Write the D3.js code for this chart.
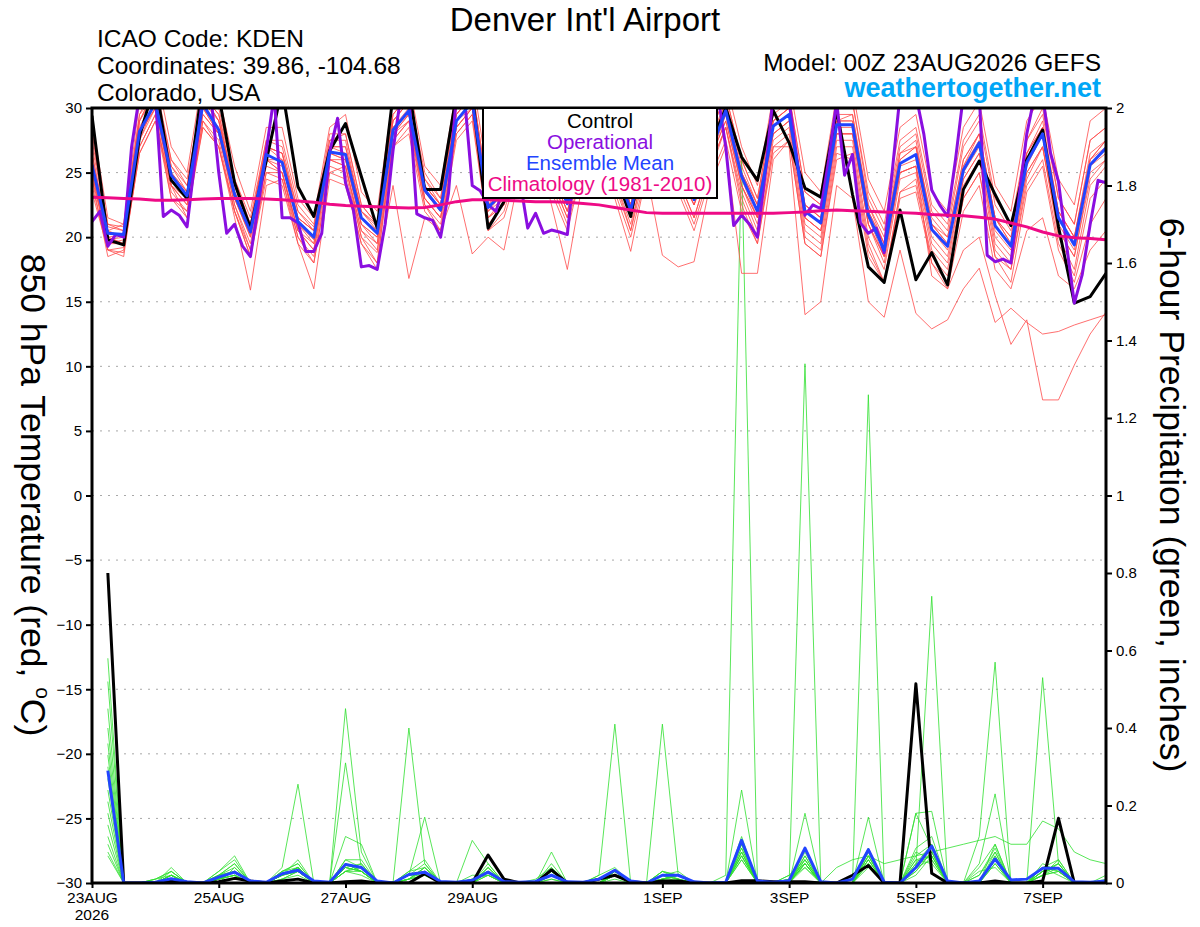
<!DOCTYPE html>
<html><head><meta charset="utf-8">
<script src="https://cdn.jsdelivr.net/npm/d3@7"></script>
<style>
body{margin:0;background:#fff;}
text{font-family:"Liberation Sans",Arial,Helvetica,sans-serif;}
</style></head><body>
<svg id="c" width="1200" height="927"></svg>
<script>
// ---------- DATA ----------
const ensStepHours = 6;      // GEFS members, control, mean, climatology
const opStepHours = 3;       // operational run
const dateTickHours = [0,48,96,144,216,264,312,360];
const dateTickLabels = ["23AUG","25AUG","27AUG","29AUG","1SEP","3SEP","5SEP","7SEP"];
const yearLabel = "2026";
const tempTicks = [30,25,20,15,10,5,0,-5,-10,-15,-20,-25,-30];
const precipTicks = [2,1.8,1.6,1.4,1.2,1,0.8,0.6,0.4,0.2,0];

const controlTemp = [29.4,19.8,19.4,27.8,32,24.4,23.0,32,31,24.2,20.7,25.9,31.5,23.9,21.6,26.7,28.8,24.7,20.7,31,31.5,23.7,23.7,31,31,20.7,22.75,28,31,26,24,29,31,25,21.6,28,31,30,26,27,30.0,26.2,24.4,29.8,27.3,23.8,23.1,29.8,23.3,17.7,16.5,22.1,16.7,18.8,16.3,23.7,25.9,23.3,20.9,26.0,28.3,20.8,14.9,15.4,17.2];

const meanTemp = [25.6,20.3,20.2,28.2,30.4,24.8,23.2,30.3,28.3,23.3,20.4,26.4,25.8,21.2,20.0,26.6,26.4,21.5,20.3,28.3,29.8,23.65,22.1,29.0,30.5,22.3,23.5,27.5,29.5,25.5,22.6,27.0,29.0,25.5,22.1,27.0,29.5,25.5,22.9,26.5,29.8,24.7,22.0,28.6,29.5,22.0,21.1,28.7,28.7,21.7,19.0,25.7,26.4,20.6,19.3,25.2,27.3,20.9,19.3,25.8,28.0,21.5,19.4,25.6,26.9];

const operationalTemp = [21.2,22.0,19.3,20.2,20.0,27.0,31,31,31,21.6,22.1,21.7,20.8,26.0,31,31,25.0,20.3,21.0,19.3,18.5,22.5,26.7,31,21.5,21.5,21.1,18.9,18.9,20.3,26.6,29.2,24.2,22.1,17.7,17.8,17.5,21.0,26.7,31,31,21.8,21.5,21.3,20.0,23.4,31,31,24.0,23.6,22.5,22.0,24.0,28.0,24.5,20.7,21.85,20.3,20.55,20.4,20.2,26.0,30.0,31,31,27.0,24.0,23.5,23.2,26.0,30.0,31,31,27.0,24.0,23.5,23.3,25.0,29.0,31,27.0,20.9,21.7,21.0,20.0,25.0,31,31,30.5,26.0,21.7,22.5,22.2,26.0,30.5,24.8,26.4,21.1,20.3,20.7,18.8,25.0,31,31,31,28.0,23.65,22.5,21.6,26.0,31,31,31,18.6,18.1,18.3,18.0,23.0,28.0,31,31,26.5,24.3,19.5,14.9,17.1,21.0,24.4,24.2];

const climatologyTemp = [23.1,23.05,23.0,22.95,22.85,22.85,22.9,22.95,23.0,23.0,23.0,22.95,22.9,22.8,22.7,22.55,22.45,22.4,22.35,22.3,22.25,22.3,22.5,22.75,22.9,22.9,22.85,22.8,22.75,22.75,22.7,22.6,22.5,22.3,22.1,21.9,21.85,21.85,21.85,21.85,21.85,21.85,21.85,21.85,21.9,21.95,22.05,22.1,22.05,22.0,21.95,21.9,21.85,21.75,21.7,21.65,21.55,21.4,21.1,20.8,20.4,20.1,19.95,19.9,19.8];

const memberTemps = [
[28.0,20.8,20.5,29.5,32.0,26.0,24.0,31.5,30.0,24.5,21.0,27.5,27.0,22.0,20.8,27.5,28.0,22.5,21.0,29.5,31.0,24.5,23.0,30.5,31.5,23.5,24.5,29.0,31.0,26.5,23.5,28.5,30.5,26.5,23.0,28.5,31.0,26.5,24.0,28.0,31.0,26.0,23.0,30.0,31.0,23.5,22.5,30.0,30.5,23.0,20.5,27.0,28.0,22.0,20.5,27.0,29.0,22.5,20.5,27.5,30.0,23.0,21.0,27.5,28.5],
[24.0,19.0,18.5,27.0,29.5,23.5,22.0,29.0,27.0,22.0,19.0,25.0,24.5,20.0,18.5,25.5,25.0,20.0,18.8,27.0,28.5,22.5,21.0,28.0,29.5,21.0,22.5,26.5,28.5,24.5,21.5,26.0,28.0,24.5,21.0,26.0,28.5,24.5,21.5,25.5,28.5,23.5,20.5,27.5,28.5,20.5,19.5,27.5,27.5,20.0,17.5,24.5,25.0,19.0,17.5,24.0,26.0,19.0,17.5,24.5,27.0,20.0,17.5,24.0,25.5],
[25.0,19.5,19.8,28.0,30.0,24.5,23.0,30.0,28.5,23.0,20.0,26.0,25.5,21.0,19.5,26.5,26.0,21.0,20.0,28.0,29.5,23.5,22.0,29.0,30.0,22.0,23.0,27.0,29.0,25.0,22.0,26.5,28.5,25.0,21.5,26.5,29.0,25.0,22.5,26.0,29.0,24.0,21.5,28.0,29.0,21.5,20.5,28.0,28.0,21.0,18.5,25.0,25.5,17.0,16.0,19.0,20.0,15.5,11.7,13.6,7.4,7.4,10.1,12.5,14.2],
[26.5,20.0,19.5,27.5,30.5,24.0,22.5,29.5,28.0,23.0,20.2,26.0,25.0,20.5,19.5,26.0,26.0,21.0,19.5,28.0,29.0,23.0,21.5,28.5,30.0,21.5,22.5,27.0,29.0,24.5,21.5,26.5,28.5,24.5,20.5,26.5,29.0,24.5,21.5,25.5,28.5,23.0,20.0,27.0,27.0,14.0,15.0,24.0,23.0,15.0,13.8,19.0,14.1,12.9,13.6,16.0,17.6,13.4,14.5,13.4,12.5,12.7,13.2,13.6,14.0],
[24.5,18.5,19.0,26.5,29.0,23.0,22.0,28.5,27.0,21.5,15.9,24.0,24.5,19.5,16.0,24.5,24.0,19.5,17.5,24.0,16.8,21.5,20.5,24.0,18.7,20.0,19.0,25.0,27.5,22.5,17.5,24.5,27.0,23.0,18.9,25.0,18.6,17.7,18.1,24.0,27.0,17.2,17.2,26.0,27.5,19.5,18.5,26.0,26.5,19.0,16.5,23.5,24.5,18.0,16.5,23.0,25.0,18.5,16.5,23.5,25.5,19.0,16.5,21.0,23.0],
[27.0,21.0,20.8,29.0,31.5,25.5,24.0,31.0,29.0,24.0,21.0,27.0,26.5,22.0,20.5,27.0,27.0,22.0,20.8,29.0,30.5,24.0,22.5,29.5,31.0,22.5,24.0,28.0,30.0,26.0,23.0,27.5,29.5,26.0,22.5,27.5,30.0,26.0,23.5,27.0,30.5,25.0,22.5,29.0,30.0,22.5,21.5,29.0,29.5,22.0,19.5,26.0,27.0,21.0,19.5,25.5,28.0,21.5,19.5,26.5,28.5,22.0,20.0,26.0,27.5],
[25.0,20.0,19.5,27.5,30.0,24.0,22.5,29.5,28.0,22.5,19.5,26.0,25.0,20.5,19.0,26.0,25.5,20.5,19.5,28.0,29.5,23.0,21.5,28.5,30.0,21.5,23.0,27.0,29.0,25.0,22.0,26.5,28.5,25.0,21.5,26.5,29.0,25.0,22.5,26.0,29.5,24.0,21.5,28.0,29.0,21.5,20.5,28.0,28.0,21.0,18.5,25.0,25.5,20.0,18.5,24.5,26.5,20.0,18.5,25.0,27.0,20.5,18.5,25.0,26.0],
[29.0,21.5,21.0,30.5,33.0,27.0,25.0,32.5,31.0,25.5,22.0,28.5,28.5,23.0,21.5,28.5,29.5,23.5,22.0,31.0,32.0,25.5,24.0,31.5,32.5,24.5,25.5,30.0,32.0,27.5,24.5,29.5,31.5,27.5,24.0,29.5,32.0,27.5,25.0,29.0,32.0,27.0,24.0,31.0,32.0,25.0,23.5,31.0,31.5,24.5,22.0,28.5,29.5,23.5,22.0,28.5,30.5,24.0,22.0,29.0,31.0,24.5,22.5,29.0,30.0],
[23.5,19.0,18.8,26.5,29.0,24.0,21.5,29.0,27.5,22.0,18.5,25.0,25.0,20.0,18.0,25.0,25.5,20.0,18.0,27.5,29.0,22.5,20.5,28.0,29.5,20.5,22.0,26.0,28.0,24.0,21.0,25.5,28.0,24.0,20.5,25.5,28.5,24.0,21.0,25.0,28.5,22.5,19.5,27.0,28.0,20.0,19.0,27.0,27.0,19.5,16.5,23.5,24.0,18.5,17.0,23.0,25.0,18.5,17.5,24.0,26.0,19.5,17.0,23.0,24.5],
[26.5,20.5,21.0,29.5,31.0,25.5,23.5,31.0,29.5,23.5,21.0,27.0,26.5,21.5,20.5,27.5,27.5,22.0,21.0,29.0,30.5,24.5,22.5,30.0,31.0,23.0,24.0,28.5,30.5,26.0,23.0,28.0,30.0,26.0,22.5,28.0,30.5,26.0,23.5,27.5,30.5,25.5,22.5,29.5,30.5,22.5,21.5,29.5,29.5,22.5,19.5,26.5,27.5,21.0,20.0,26.0,28.0,21.5,20.0,26.5,29.0,22.0,20.0,26.5,27.5],
[24.5,19.8,20.0,28.0,30.5,24.5,23.0,30.0,28.0,23.0,20.0,26.0,26.0,21.0,19.8,26.5,26.0,21.0,20.0,28.5,29.5,23.5,22.0,29.0,30.5,22.0,23.5,27.5,29.5,25.5,22.5,27.0,29.0,25.5,22.0,27.0,29.5,25.5,23.0,26.5,29.5,24.5,21.5,28.5,29.5,21.5,20.5,28.5,28.5,21.5,18.5,25.5,26.0,20.5,19.0,25.0,27.0,20.5,19.0,25.5,28.0,21.0,19.0,25.5,26.5],
[27.5,21.0,20.5,28.5,31.0,25.0,23.5,30.5,29.0,24.0,20.5,27.0,26.5,21.5,20.5,27.0,27.0,22.0,20.5,29.0,30.5,24.0,22.5,29.5,31.0,23.0,24.0,28.0,30.0,26.0,23.0,27.5,29.5,26.0,22.5,27.5,30.0,26.0,23.0,27.0,30.0,25.0,22.5,29.0,30.0,22.5,21.5,29.0,29.0,22.5,20.0,26.5,27.0,21.5,20.0,26.0,28.0,21.5,20.0,26.5,28.5,22.0,20.0,26.0,27.5],
[25.5,19.5,19.5,28.0,30.0,24.0,23.0,30.0,28.0,22.5,19.0,25.5,25.0,20.5,19.0,26.0,25.5,20.5,19.0,27.5,29.0,23.0,21.5,28.5,30.0,21.5,22.5,26.5,29.0,25.0,22.0,26.5,28.5,25.0,21.5,26.5,29.0,25.0,22.5,26.0,29.0,24.0,21.0,28.0,29.0,21.0,20.0,28.0,28.0,21.0,18.0,25.0,25.5,19.5,18.0,24.5,26.5,19.5,18.0,25.0,27.0,20.5,18.5,24.5,26.0],
[26.0,20.5,20.0,29.0,31.0,25.0,23.5,31.0,29.0,23.5,21.0,27.0,26.0,21.5,20.5,27.0,26.5,21.5,20.5,28.5,30.0,24.0,22.5,29.5,31.0,22.5,23.5,28.0,30.0,26.0,23.0,27.5,29.5,26.0,22.5,27.5,30.0,26.0,23.0,27.0,30.0,25.0,22.0,29.0,30.0,22.0,21.0,29.0,29.0,22.0,19.5,26.0,27.0,21.0,19.5,25.5,27.5,21.5,19.5,26.0,28.5,21.5,19.5,26.0,27.0],
[25.0,19.0,19.2,27.0,29.5,23.0,21.5,28.5,27.0,22.0,18.5,24.5,24.0,19.5,18.0,25.0,24.5,19.5,18.0,27.0,28.0,22.0,20.5,27.5,29.0,20.5,21.5,25.5,27.5,23.5,20.5,25.5,27.5,23.5,20.0,25.0,27.5,23.5,20.5,24.5,27.5,22.0,19.5,26.5,27.5,19.5,18.5,26.5,26.0,18.5,16.5,23.0,23.5,18.0,16.0,22.0,24.0,17.5,16.0,20.5,21.5,17.0,16.0,19.0,20.5],
[28.5,20.0,20.2,29.0,31.5,26.0,24.5,31.0,29.5,24.5,21.5,27.5,27.5,22.5,21.0,28.0,28.0,22.5,21.0,29.5,31.0,25.0,23.0,30.0,31.5,23.5,24.5,29.0,31.0,27.0,23.5,28.5,30.5,27.0,23.5,28.5,31.0,27.0,24.0,28.0,31.0,26.0,23.0,30.0,31.0,23.5,22.5,30.0,30.5,23.5,21.0,27.5,28.5,22.5,21.0,27.5,29.5,23.0,21.0,27.5,29.5,23.0,21.0,27.5,28.5]
];

// precipitation: 6-hour totals valid at hours 6..384
const controlPrecip = [0.80,0,0,0,0.007,0,0,0.003,0.012,0.005,0,0.005,0.01,0,0,0.003,0.005,0,0,0,0.024,0,0,0,0.072,0.01,0,0,0.034,0,0,0.01,0.02,0.003,0,0.005,0.005,0,0,0,0.006,0.006,0.003,0.003,0.003,0,0,0.02,0.045,0,0,0.514,0.025,0,0,0,0.005,0,0,0.005,0.167,0,0,0];
const meanPrecip = [0.29,0,0,0.002,0.011,0.003,0,0.015,0.028,0.005,0.002,0.024,0.033,0.005,0.002,0.048,0.04,0.005,0,0.022,0.028,0.004,0.002,0.007,0.028,0.004,0.002,0.004,0.02,0.003,0.002,0.01,0.033,0.005,0,0.02,0.02,0.003,0,0.002,0.11,0.005,0.002,0.006,0.09,0.003,0,0.01,0.086,0.002,0,0.04,0.095,0.005,0,0.005,0.062,0.008,0.01,0.038,0.038,0.003,0.002,0.005];
const memberPrecips = [
[.58,0,0,0,.02,0,0,.01, .03,0,0,.01,.02,0,0,.05, .03,0,0,.02,.03,0,0,0, .02,0,0,0,.01,0,0,.01, .03,0,0,.02,.01,0,0,.02, 1.88,0,0,0,.05,0,0,0, .06,0,0,.03,.08,0,0,0, .05,0,0,.02,.03,0,0,0],
[.52,0,0,.01,.03,0,0,.02, .05,0,0,.02,.04,0,0,.03, .04,0,0,.01,.02,0,0,.01, .03,0,0,0,.02,0,0,0, .02,0,0,.01,.02,0,0,0, .08,0,0,0,1.34,0,0,.01, .05,0,0,.05,.1,0,0,.02, .08,0,0,.03,.04,0,0,0],
[.45,0,0,0,.01,0,0,.01, .02,0,0,.03,.05,0,0,.12, .1,0,0,.01,.02,0,0,0, .04,0,0,0,.03,0,0,0, .01,0,0,.02,0,0,0,0, .1,0,0,0,.06,0,0,0, 1.26,0,0,.02,.07,0,0,0, .06,0,0,.04,.02,0,0,.01],
[.40,0,0,0,.04,0,0,.03, .07,0,0,.01,.03,0,0,.04, .05,0,0,.02,.05,0,0,0, .05,0,0,0,.02,0,0,0, .02,0,0,.03,.02,0,0,0, .06,0,0,.01,.09,0,0,0, .05,0,0,.04,.74,0,0,.03, .04,0,0,.05,.03,0,0,0],
[.36,0,0,.01,.03,0,0,0, .04,0,0,.02,.06,0,0,.06, .04,0,0,.01,.04,0,0,.02, .02,0,0,.01,.04,0,0,0, .03,0,0,.01,.02,0,0,0, .12,0,0,0,.08,0,0,0, .08,0,0,.06,.05,0,0,.12, .57,0,0,.02,.06,0,0,0],
[.33,0,0,0,.02,0,0,.02, .03,0,0,.02,.04,0,0,.06, .06,0,0,.03,.06,0,0,.01, .03,0,0,0,.05,0,0,.02, .04,0,0,.02,.01,0,0,0, .07,0,0,0,.05,0,0,0, .07,0,0,.08,.06,0,0,.02, .09,0,0,.53,.05,0,0,0],
[.30,0,0,0,.01,0,0,.01, .02,0,0,.02,.04,0,0,.03, .02,0,0,.03,.04,0,0,0, .03,0,0,0,.02,0,0,.02, .41,0,0,.03,.01,0,0,0, .09,0,0,.01,.04,0,0,0, .07,0,0,.03,.08,0,0,0, .05,0,0,.03,.04,0,0,.02],
[.27,0,0,.01,.02,0,0,.01, .03,0,0,.03,.05,0,0,.04, .03,0,0,.02,.03,0,0,.01, .02,0,0,0,.03,0,0,0, .02,0,0,.41,.02,0,0,0, .11,0,0,0,.07,0,0,0, .04,0,0,.06,.07,0,0,0, .1,0,0,.02,.03,0,0,0],
[.24,0,0,0,.01,0,0,.02, .04,0,0,.01,.03,0,0,.45, .08,0,0,.01,.04,0,0,0, .03,0,0,0,.02,0,0,.01, .03,0,0,.01,.01,0,0,0, .08,0,0,0,.05,0,0,.01, .09,0,0,.04,.06,0,0,0, .07,0,0,.02,.05,0,0,0],
[.21,0,0,0,.02,0,0,.02, .05,0,0,.02,.04,0,0,.05, .04,0,0,.40,.05,0,0,0, .04,0,0,0,.01,0,0,0, .02,0,0,.02,.03,0,0,0, .06,0,0,.02,.06,0,0,0, .06,0,0,.18,.09,0,0,0, .06,0,0,.04,.03,0,0,0],
[.18,0,0,0,.03,0,0,.01, .03,0,0,.04,.255,0,0,.03, .05,0,0,.02,.02,0,0,0, .03,0,0,0,.08,0,0,0, .02,0,0,.01,.02,0,0,0, .09,0,0,0,.06,0,0,0, .05,0,0,.05,.07,0,0,0, .08,0,0,.03,.05,0,0,0],
[.15,0,0,0,.01,0,0,.03, .06,0,0,.02,.03,0,0,.31, .04,0,0,.01,.03,0,0,.11, .05,0,0,0,.04,0,0,0, .03,0,0,.02,.01,0,0,0, .1,0,0,0,.07,0,0,0, .08,0,0,.07,.1,0,0,.04, .1,0,0,.04,.06,0,0,0],
[.12,0,0,0,.02,0,0,.01, .02,0,0,.03,.04,0,0,.04, .03,0,0,.02,.17,0,0,0, .03,0,0,0,.02,0,0,0, .03,0,0,.01,.02,0,0,0, .08,0,0,.01,.05,0,0,0, .06,0,0,.09,.12,0,0,0, .07,0,0,.03,.04,0,0,0],
[.10,0,0,0,.02,0,0,.01, .03,0,0,.02,.03,0,0,.05, .03,0,0,.02,.03,0,0,0, .02,0,0,0,.03,0,0,0, .02,0,0,.03,.02,0,0,0, .24,0,0,0,.04,0,0,0, .07,0,0,.04,.08,0,0,.05, .23,0,0,.03,.05,0,0,0],
[.08,0,0,0,.02,0,0,.01, .02,0,0,.02,.03,0,0,.03, .03,0,0,.01,.04,0,0,0, .04,0,0,0,.02,0,0,0, .03,0,0,.01,.02,0,0,0, .07,0,0,0,.18,0,0,0, .17,0,0,.18,.185,0,0,0, .06,0,0,.02,.04,0,0,0],
[.07,0,0,0,.01,0,0,.02, .03,0,0,.02,.04,0,0,.04, .03,0,0,.02,.03,0,0,0, .03,0,0,0,.02,0,0,0, .02,0,0,.02,.02,0,0,0, .07,0,0,.02,.05,0,.04,.06, .07,.05,.06,.07,.08,.09,.1,.11, .12,.1,.1,.16,.14,.08,.06,.05]
];

const titleText = "Denver Int'l Airport";
const infoLines = ["ICAO Code: KDEN","Coordinates: 39.86, -104.68","Colorado, USA"];
const modelText = "Model: 00Z 23AUG2026 GEFS";
const siteText = "weathertogether.net";
const legendItems = [
  {label:"Control", color:"#000000"},
  {label:"Operational", color:"#8a0ee0"},
  {label:"Ensemble Mean", color:"#2244ff"},
  {label:"Climatology (1981-2010)", color:"#ee0a86"}
];

// ---------- DRAW ----------
const svg = d3.select("#c");
const L = 92, R = 1106, T = 108, B = 883;
const x = d3.scaleLinear().domain([0,384]).range([L,R]);
const yT = d3.scaleLinear().domain([-30,30]).range([B,T]);
const yP = d3.scaleLinear().domain([0,2]).range([B,T]);

svg.append("defs").append("clipPath").attr("id","plotclip")
  .append("rect").attr("x",L).attr("y",T).attr("width",R-L).attr("height",B-T);

// grid
svg.append("g").selectAll("line").data(tempTicks.filter(d=>d>-30&&d<30)).join("line")
  .attr("x1",L).attr("x2",R).attr("y1",d=>yT(d)).attr("y2",d=>yT(d))
  .attr("stroke","#a8a8a8").attr("stroke-width",1).attr("stroke-dasharray","2,6");

const plot = svg.append("g").attr("clip-path","url(#plotclip)");

const lineEnsT = d3.line().x((d,i)=>x(i*ensStepHours)).y(d=>yT(d));
const lineOpT = d3.line().x((d,i)=>x(i*opStepHours)).y(d=>yT(d));
const lineP = d3.line().x((d,i)=>x((i+1)*ensStepHours)).y(d=>yP(d));

plot.append("g").selectAll("path").data(memberPrecips).join("path")
  .attr("d",lineP).attr("fill","none").attr("stroke","#2ee02e").attr("stroke-width",0.8);
plot.append("g").selectAll("path").data(memberTemps).join("path")
  .attr("d",lineEnsT).attr("fill","none").attr("stroke","#ff4a4a").attr("stroke-width",0.8);

plot.append("path").datum(controlPrecip).attr("d",lineP).attr("fill","none")
  .attr("stroke","#000").attr("stroke-width",3).attr("stroke-linejoin","round");
plot.append("path").datum(meanPrecip).attr("d",lineP).attr("fill","none")
  .attr("stroke","#2244ff").attr("stroke-width",3).attr("stroke-linejoin","round");

plot.append("path").datum(controlTemp).attr("d",lineEnsT).attr("fill","none")
  .attr("stroke","#000").attr("stroke-width",3).attr("stroke-linejoin","round");
plot.append("path").datum(operationalTemp).attr("d",lineOpT).attr("fill","none")
  .attr("stroke","#8a0ee0").attr("stroke-width",3).attr("stroke-linejoin","round");
plot.append("path").datum(meanTemp).attr("d",lineEnsT).attr("fill","none")
  .attr("stroke","#2244ff").attr("stroke-width",3).attr("stroke-linejoin","round");
plot.append("path").datum(climatologyTemp).attr("d",lineEnsT).attr("fill","none")
  .attr("stroke","#ee0a86").attr("stroke-width",3).attr("stroke-linejoin","round");

// axes
const axL = svg.append("g").attr("transform",`translate(${L},0)`)
  .call(d3.axisLeft(yT).tickValues(tempTicks).tickSize(6).tickPadding(4).tickFormat(d3.format("d")));
const axR = svg.append("g").attr("transform",`translate(${R},0)`)
  .call(d3.axisRight(yP).tickValues(precipTicks).tickSize(6).tickPadding(4).tickFormat(d3.format("~g")));
const axB = svg.append("g").attr("transform",`translate(0,${B})`)
  .call(d3.axisBottom(x).tickValues(dateTickHours).tickSize(5).tickPadding(4).tickFormat((d,i)=>dateTickLabels[i]));
[axL,axR,axB].forEach(a=>{
  a.select(".domain").remove();
  a.selectAll("line").attr("stroke","#000").attr("stroke-width",2);
  a.selectAll("text").attr("font-size",15).attr("fill","#000")
    .attr("font-family",'"Liberation Sans",Arial,sans-serif');
});
axB.selectAll("text").attr("font-size",15.5);
svg.append("text").attr("x",x(0)).attr("y",920).attr("text-anchor","middle")
  .attr("font-size",15.5).text(yearLabel);

// frame
svg.append("path").attr("d",`M${L},${T}H${R}V${B}H${L}Z`).attr("fill","none")
  .attr("stroke","#000").attr("stroke-width",3);

// legend
const lg = svg.append("g");
lg.append("rect").attr("x",483).attr("y",T).attr("width",234).attr("height",90)
  .attr("fill","#fff").attr("stroke","#000").attr("stroke-width",2);
lg.selectAll("text").data(legendItems).join("text")
  .attr("x",600).attr("y",(d,i)=>127.5+i*21.3).attr("text-anchor","middle")
  .attr("font-size",20.5).attr("fill",d=>d.color).text(d=>d.label);

// titles
svg.append("text").attr("x",585).attr("y",31).attr("text-anchor","middle")
  .attr("font-size",33).text(titleText);
svg.selectAll(".info").data(infoLines).join("text").attr("class","info")
  .attr("x",97).attr("y",(d,i)=>47+i*27).attr("font-size",24.5).text(d=>d);
svg.append("text").attr("x",1101).attr("y",71).attr("text-anchor","end")
  .attr("font-size",24.5).text(modelText);
svg.append("text").attr("x",1101).attr("y",97).attr("text-anchor","end")
  .attr("font-size",27).attr("font-weight","bold").attr("fill","#00a6f6").text(siteText);

// axis titles (rotated, reading downward)
const tl = svg.append("text").attr("transform","translate(21,495) rotate(90)").attr("text-anchor","middle")
  .attr("font-size",35.5);
tl.append("tspan").text("850 hPa Temperature (red, ");
tl.append("tspan").attr("font-size",21).attr("baseline-shift","70%").text("o");
tl.append("tspan").text("C)");
svg.append("text").attr("transform","translate(1160,495) rotate(90)").attr("text-anchor","middle")
  .attr("font-size",35.5).text("6-hour Precipitation (green, inches)");
</script>
</body></html>
